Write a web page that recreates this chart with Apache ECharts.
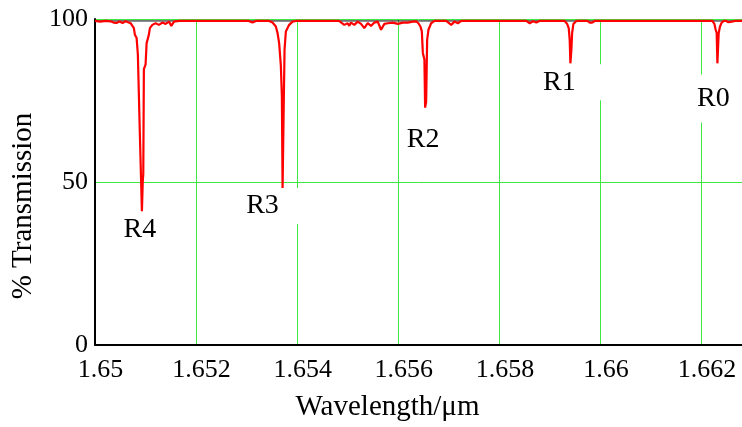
<!DOCTYPE html>
<html>
<head>
<meta charset="utf-8">
<script src="https://cdn.jsdelivr.net/npm/echarts@6/dist/echarts.min.js"></script>
<style>
  html, body { margin: 0; padding: 0; background: #ffffff; }
  #chart { width: 742px; height: 427px; }
</style>
</head>
<body>
<div id="chart"></div>
<script>
// Measured transmission spectrum (wavelength in µm, transmission in %)
const wavelength = [
  1.650000, 1.650109, 1.650208, 1.650307, 1.650367, 1.650426, 1.650486, 1.650545, 1.650605,
  1.650704, 1.650769, 1.650789, 1.650823, 1.650836, 1.650848, 1.650882, 1.650888, 1.650916,
  1.650928, 1.650945, 1.650955, 1.650967, 1.651001, 1.651021, 1.651066, 1.651086, 1.651134,
  1.651199, 1.651265, 1.651332, 1.651397, 1.651463, 1.651510, 1.651562, 1.651661,
  1.652091, 1.652587, 1.653043, 1.653116, 1.653181,
  1.653445, 1.653512, 1.653578, 1.653611, 1.653643, 1.653677, 1.653697, 1.653711, 1.653723,
  1.653735, 1.653750, 1.653776, 1.653841, 1.653909, 1.653974,
  1.654470, 1.654827,
  1.654866, 1.654932, 1.654999, 1.655031, 1.655064, 1.655130, 1.655197, 1.655263, 1.655328,
  1.655395, 1.655461, 1.655526, 1.655594, 1.655659, 1.655725, 1.655792, 1.655891, 1.655990,
  1.656089, 1.656188, 1.656287, 1.656353,
  1.656398, 1.656438, 1.656466, 1.656486, 1.656517, 1.656531, 1.656551, 1.656571, 1.656597,
  1.656650, 1.656716, 1.656948, 1.657047, 1.657112, 1.657179, 1.657245,
  1.658038, 1.658533, 1.658599, 1.658666, 1.658731, 1.658791,
  1.659292, 1.659340, 1.659372, 1.659391, 1.659405, 1.659425, 1.659439, 1.659465, 1.659524,
  1.659742, 1.659788, 1.659835, 1.659887, 1.661011,
  1.662214, 1.662254, 1.662279, 1.662299, 1.662313, 1.662333, 1.662339, 1.662365, 1.662398,
  1.662444, 1.662488, 1.662531, 1.662567, 1.662597, 1.662662, 1.662800
];
const transmission = [
  99.4, 99.2, 99.4, 99.3, 98.9, 98.8, 99.2, 98.8, 99.3,
  98.7, 97.2, 95.2, 94.2, 93.7, 89.1, 88.6, 64.4, 63.9,
  41.0, 50.3, 52.3, 84.6, 86.1, 92.6, 95.2, 97.2, 98.2,
  98.7, 98.2, 98.9, 98.5, 99.2, 97.9, 99.2, 99.4,
  99.4, 99.4, 99.4, 98.9, 99.4,
  99.4, 98.9, 97.7, 95.7, 92.6, 85.6, 76.5, 48.0, 48.0,
  75.0, 90.6, 96.2, 98.2, 99.2, 99.4,
  99.4, 99.4,
  99.2, 98.2, 98.7, 97.9, 98.9, 98.2, 99.2, 98.5, 97.2,
  98.7, 97.9, 98.9, 99.2, 96.7, 98.5, 98.7, 98.9, 98.5,
  98.9, 98.9, 99.2, 99.3,
  98.7, 97.7, 96.2, 89.6, 87.6, 72.8, 74.5, 93.6, 96.7,
  98.7, 99.4, 99.4, 98.2, 99.2, 98.7, 99.4,
  99.4, 99.4, 98.7, 99.3, 98.9, 99.4,
  99.4, 98.5, 97.2, 93.7, 86.4, 90.6, 95.7, 98.5, 99.4,
  99.4, 98.9, 98.9, 99.4, 99.4,
  99.4, 98.5, 96.7, 95.7, 86.4, 86.4, 95.7, 97.7, 98.9,
  99.4, 99.4, 99.0, 99.4, 99.2, 99.4, 99.4
];

// Reference (100 % baseline) trace level
const referenceLevel = 99.4;

// Rotational line designations and where their captions sit
const lineNames = ['R4', 'R3', 'R2', 'R1', 'R0'];
const labelWavelength = [1.650888, 1.653314, 1.656492, 1.659187, 1.662234];
const labelTransmission = [35.5, 42.6, 63.0, 80.6, 75.6];

// Axis tick labels
const xTickLabels = ['1.65', '1.652', '1.654', '1.656', '1.658', '1.66', '1.662'];
const yTickLabels = ['0', '50', '100'];

const X_MIN = 1.65, X_MAX = 1.6628, X_STEP = 0.002;
const FONT = "'Liberation Serif', 'Times New Roman', serif";
const GRID_GREEN = '#3fe83f';

// Caption box padding (white boxes behind each caption)
const captionPadding = [
  [3, 4, 3, 4],
  [4, 22, 4, 22],
  [3, 4, 3, 4],
  [4, 30, 4, 30],
  [10, 4, 10, 4]
];

const spectrum = wavelength.map((w, i) => [w, transmission[i]]);
const captions = lineNames.map((name, i) => ({
  name: name,
  value: [labelWavelength[i], labelTransmission[i]],
  label: { padding: captionPadding[i] }
}));

const chart = echarts.init(document.getElementById('chart'), null, { renderer: 'canvas' });

chart.setOption({
  animation: false,
  backgroundColor: '#ffffff',
  grid: { left: 95, right: 0, top: 19, bottom: 76, containLabel: false },
  xAxis: {
    type: 'value',
    min: X_MIN,
    max: X_MAX,
    interval: X_STEP,
    name: 'Wavelength/\u03bcm',
    nameLocation: 'middle',
    nameGap: 48,
    nameTextStyle: { fontFamily: FONT, fontSize: 29, color: '#000', padding: [0, 62, 0, 0] },
    axisLine: { show: true, onZero: false, lineStyle: { color: '#000', width: 2 } },
    axisTick: { show: false },
    axisLabel: {
      fontFamily: FONT, fontSize: 26, color: '#000', margin: 12,
      padding: [0, 0, 0, 11],
      showMaxLabel: false,
      formatter: function (v) {
        const k = Math.round((v - X_MIN) / X_STEP);
        if (Math.abs(v - (X_MIN + k * X_STEP)) > 1e-7) return '';
        return xTickLabels[k] || '';
      }
    },
    splitLine: { show: true, lineStyle: { color: GRID_GREEN, width: 1 } }
  },
  yAxis: {
    type: 'value',
    min: 0,
    max: 100,
    interval: 50,
    name: '% Transmission',
    nameLocation: 'middle',
    nameGap: 56,
    nameTextStyle: { fontFamily: FONT, fontSize: 29, color: '#000', padding: [0, 48, 0, 0] },
    axisLine: { show: true, onZero: false, lineStyle: { color: '#000', width: 2 } },
    axisTick: { show: false },
    axisLabel: {
      fontFamily: FONT, fontSize: 26, color: '#000', margin: 7,
      formatter: function (v) { return yTickLabels[Math.round(v / 50)] || ''; }
    },
    splitLine: { show: true, lineStyle: { color: GRID_GREEN, width: 1 } }
  },
  series: [
    {
      name: 'reference',
      type: 'line',
      data: [[X_MIN, referenceLevel], [X_MAX, referenceLevel]],
      symbol: 'none',
      lineStyle: { color: '#000', width: 1 },
      z: 2
    },
    {
      name: 'transmission',
      type: 'line',
      data: spectrum,
      symbol: 'none',
      lineStyle: { color: '#ff0000', width: 2.2 },
      z: 3
    },
    {
      name: 'captions',
      type: 'scatter',
      data: captions,
      symbolSize: 0,
      itemStyle: { opacity: 1 },
      z: 4,
      label: {
        show: true,
        position: 'inside',
        formatter: '{b}',
        fontFamily: FONT,
        fontSize: 28,
        color: '#000000',
        opacity: 1,
        textBorderWidth: 0,
        backgroundColor: '#ffffff'
      }
    }
  ]
});
</script>
</body>
</html>
